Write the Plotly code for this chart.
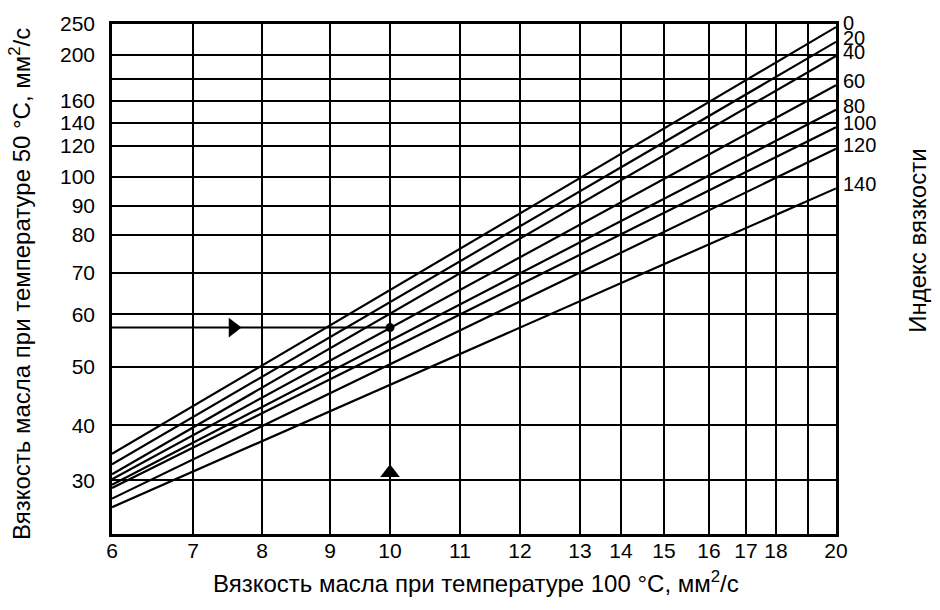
import numpy as np
import plotly.graph_objects as go

# ---------------- data ----------------
vi_index = [0, 20, 40, 60, 80, 100, 120, 140]          # viscosity index of each line
v100_ends = [6, 20]                                    # x at both ends of every line
v50_at_6 = [34.8, 32.9, 31.1, 30.2, 29.6, 29.3, 28.3, 27.5]
v50_at_20 = [245, 221, 199, 174, 152, 136, 118, 96]

x_ticks = [6, 7, 8, 9, 10, 11, 12, 13, 14, 15, 16, 17, 18, 19, 20]
x_tick_text = ["6", "7", "8", "9", "10", "11", "12", "13", "14", "15", "16", "17", "18", "", "20"]
y_ticks = [30, 40, 50, 60, 70, 80, 90, 100, 120, 140, 160, 180, 200, 250]
y_tick_text = ["30", "40", "50", "60", "70", "80", "90", "100", "120", "140", "160", "", "200", "250"]

example_v100 = 10
example_v50 = 57.5
arrow_right_x = 7.58
arrow_up_y = 31.4

# ---------------- printed (irregular) scale of the nomogram ----------------
X_SCALE_VALUES = [6, 7, 8, 9, 10, 11, 12, 13, 14, 15, 16, 17, 18, 19, 20]
X_SCALE_FRAC = [0.0, 0.1119, 0.2072, 0.3011, 0.3840, 0.4807, 0.5635, 0.6464,
                0.7030, 0.7624, 0.8246, 0.8757, 0.9171, 0.9613, 1.0]
Y_SCALE_VALUES = [25, 30, 40, 50, 60, 70, 80, 90, 100, 120, 140, 160, 180, 200, 250]
Y_SCALE_FRAC = [0.0, 0.1051, 0.2134, 0.3274, 0.4305, 0.5123, 0.5862, 0.6434,
                0.7004, 0.7613, 0.8068, 0.8488, 0.8930, 0.9397, 1.0]


def fx(v):
    return np.interp(v, X_SCALE_VALUES, X_SCALE_FRAC)


def fy(v):
    return np.interp(v, Y_SCALE_VALUES, Y_SCALE_FRAC)


FONT = "Liberation Sans, Arial, sans-serif"
fig = go.Figure()

for vi, a, b in zip(vi_index, v50_at_6, v50_at_20):
    fig.add_trace(go.Scatter(
        x=fx(v100_ends), y=fy([a, b]), mode="lines",
        line=dict(color="black", width=2.2), name=str(vi), showlegend=False,
        hoverinfo="skip"))

# example: horizontal arrow line to the point
fig.add_trace(go.Scatter(
    x=fx([6, example_v100]), y=fy([example_v50, example_v50]), mode="lines",
    line=dict(color="black", width=2), showlegend=False, hoverinfo="skip"))
fig.add_trace(go.Scatter(
    x=[fx(example_v100)], y=[fy(example_v50)], mode="markers",
    marker=dict(color="black", size=9), showlegend=False, hoverinfo="skip"))
fig.add_trace(go.Scatter(
    x=[fx(arrow_right_x)], y=[fy(example_v50)], mode="markers",
    marker=dict(color="black", size=17, symbol="triangle-right"),
    showlegend=False, hoverinfo="skip"))
fig.add_trace(go.Scatter(
    x=[fx(example_v100)], y=[fy(arrow_up_y)], mode="markers",
    marker=dict(color="black", size=17, symbol="triangle-up"),
    showlegend=False, hoverinfo="skip"))

annotations = []
for vi, b in zip(vi_index, v50_at_20):
    annotations.append(dict(
        x=1, xref="paper", y=float(fy(b)), yref="y", text=str(vi),
        showarrow=False, xanchor="left", yanchor="middle", xshift=5, yshift=4,
        font=dict(family=FONT, size=20, color="black")))

annotations.append(dict(
    x=0.5, xref="paper", y=-0.095, yref="paper", xshift=2,
    text="Вязкость масла при температуре 100 °С, мм<sup>2</sup>/с",
    showarrow=False, xanchor="center", yanchor="middle",
    font=dict(family=FONT, size=24, color="black")))
annotations.append(dict(
    x=0, xref="paper", xshift=-92, y=0.49, yref="paper",
    text="Вязкость масла при температуре 50 °С, мм<sup>2</sup>/с",
    textangle=-90, showarrow=False, xanchor="center", yanchor="middle",
    font=dict(family=FONT, size=24, color="black")))
annotations.append(dict(
    x=1, xref="paper", xshift=82, y=0.575, yref="paper",
    text="Индекс вязкости",
    textangle=-90, showarrow=False, xanchor="center", yanchor="middle",
    font=dict(family=FONT, size=24, color="black")))

fig.update_layout(
    width=940, height=610,
    margin=dict(l=112, r=104, t=20, b=76),
    paper_bgcolor="white", plot_bgcolor="white",
    font=dict(family=FONT, size=21, color="black"),
    annotations=annotations,
    xaxis=dict(
        range=[0, 1], tickmode="array", tickvals=fx(x_ticks).tolist(),
        ticktext=x_tick_text, showgrid=True, gridcolor="black", gridwidth=1.8,
        zeroline=False, showline=True, mirror=True, linecolor="black",
        linewidth=2.5, ticks="", ticklabelstandoff=-4,
        tickfont=dict(family=FONT, size=21, color="black")),
    yaxis=dict(
        range=[0, 1], tickmode="array", tickvals=fy(y_ticks).tolist(),
        ticktext=y_tick_text, showgrid=True, gridcolor="black", gridwidth=1.8,
        zeroline=False, showline=True, mirror=True, linecolor="black",
        linewidth=2.5, ticks="", ticklabelstandoff=10,
        tickfont=dict(family=FONT, size=21, color="black")),
)

fig.write_html("out.html")
